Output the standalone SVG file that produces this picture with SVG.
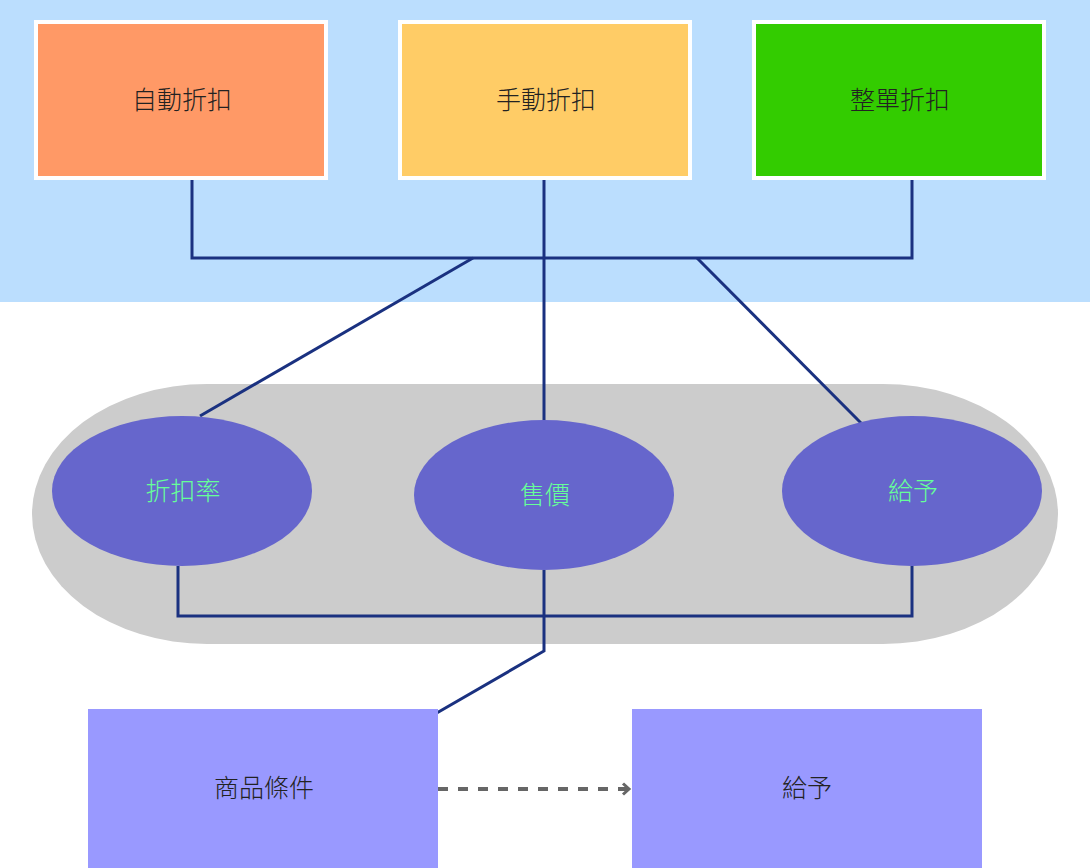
<svg xmlns="http://www.w3.org/2000/svg" width="1090" height="868" viewBox="0 0 1090 868">
<defs>
<style>
.box{stroke:#fff;stroke-width:4}
.lbl{font-family:"Liberation Sans","Noto Sans CJK TC",sans-serif;font-size:25px;font-weight:300;text-anchor:middle;dominant-baseline:central;fill:#222}
.el{fill:#6666cc}
.elbl{font-family:"Liberation Sans","Noto Sans CJK TC",sans-serif;font-size:25px;font-weight:300;text-anchor:middle;dominant-baseline:central;fill:#66ff99}
.ln{stroke:#1a3180;stroke-width:3;fill:none}
.bb{fill:#9999ff}
</style>
<marker id="chev" markerWidth="12" markerHeight="14" refX="9" refY="7" orient="auto" markerUnits="userSpaceOnUse">
<path d="M3,1.5 L9,7 L3,12.5" fill="none" stroke="#666" stroke-width="3"/>
</marker>
</defs>
<rect x="0" y="0" width="1090" height="302" fill="#bbdefe"/>
<rect x="32" y="384" width="1026" height="260" rx="175" ry="130" fill="#cccccc"/>
<g id="connectors">
<polyline class="ln" points="192,180 192,258 912,258 912,180"/>
<line class="ln" x1="544" y1="180" x2="544" y2="420"/>
<line class="ln" x1="473" y1="258" x2="200" y2="416"/>
<line class="ln" x1="697" y1="258" x2="861" y2="423"/>
<polyline class="ln" points="178,566 178,616 912,616 912,566"/>
<polyline class="ln" points="544,570 544,651 435,714"/>
<line x1="438" y1="789" x2="629" y2="789" stroke="#666" stroke-width="4" stroke-dasharray="10,10" marker-end="url(#chev)"/>
</g>
<g id="auto"><rect class="box" x="36" y="22" width="290" height="156" fill="#ff9966"/><text class="lbl" x="182" y="100">自動折扣</text></g>
<g id="manual"><rect class="box" x="400" y="22" width="290" height="156" fill="#ffcc66"/><text class="lbl" x="546" y="100">手動折扣</text></g>
<g id="whole"><rect class="box" x="754" y="22" width="290" height="156" fill="#33cc00"/><text class="lbl" x="900" y="100">整單折扣</text></g>
<g id="rate"><ellipse class="el" cx="182" cy="491" rx="130" ry="75"/><text class="elbl" x="183" y="491">折扣率</text></g>
<g id="price"><ellipse class="el" cx="544" cy="495" rx="130" ry="75"/><text class="elbl" x="545" y="495">售價</text></g>
<g id="give"><ellipse class="el" cx="912" cy="491" rx="130" ry="75"/><text class="elbl" x="913" y="491">給予</text></g>
<g id="cond"><rect class="bb" x="88" y="709" width="350" height="159"/><text class="lbl" x="264" y="788">商品條件</text></g>
<g id="give2"><rect class="bb" x="632" y="709" width="350" height="159"/><text class="lbl" x="807" y="788">給予</text></g>
</svg>
